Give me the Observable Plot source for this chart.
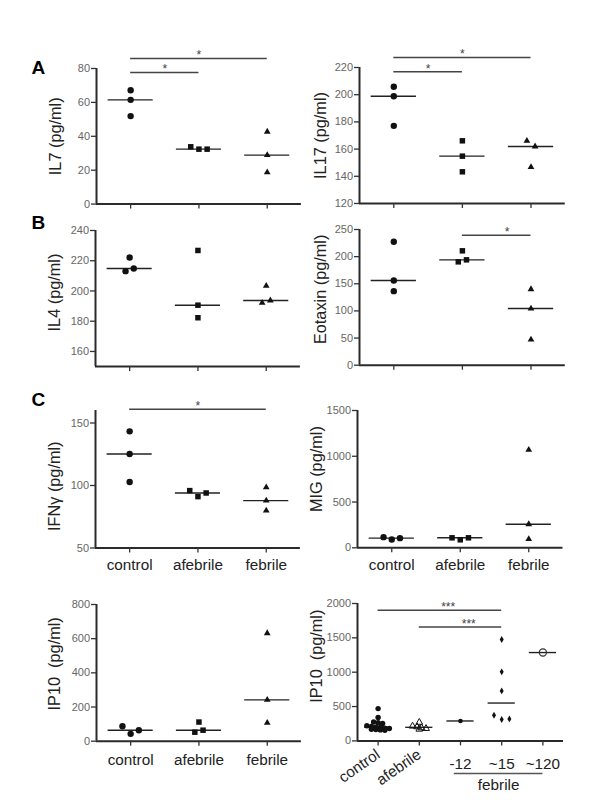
<!DOCTYPE html>
<html><head><meta charset="utf-8">
<script src="https://cdn.jsdelivr.net/npm/d3@7"></script>
<script src="https://cdn.jsdelivr.net/npm/@observablehq/plot@0.6"></script>
<style>
body{margin:0;background:#fff;}
#fig{position:relative;width:600px;height:806px;overflow:hidden;font-family:"Liberation Sans",Arial,Helvetica,sans-serif;}
.panel{position:absolute;}
.letter{position:absolute;font-weight:bold;font-size:19px;line-height:19px;color:#000;}
</style></head><body><div id="fig"></div>
<script>
const FONT = '"Liberation Sans", Arial, Helvetica, sans-serif';
const groups3 = ["control", "afebrile", "febrile"];
const groups5 = ["control", "afebrile", "-12", "~15", "~120"];
const febrileSub = ["-12", "~15", "~120"];

// A
const il7Control = [67.2, 61.5, 51.9];
const il7Afebrile = [33.8, 32.4, 32.4];
const il7Febrile = [42.7, 28.9, 18.7];
const il7Ticks = [0, 20, 40, 60, 80];
const il7Sig = [{from: "control", to: "afebrile", y: 77.6, label: "*"}, {from: "control", to: "febrile", y: 85.9, label: "*"}];

const il17Control = [205.8, 198.9, 177.1];
const il17Afebrile = [166.1, 154.8, 143.3];
const il17Febrile = [166.1, 161.9, 146.7];
const il17Ticks = [120, 140, 160, 180, 200, 220];
const il17Sig = [{from: "control", to: "afebrile", y: 216.8, label: "*"}, {from: "control", to: "febrile", y: 227.4, label: "*"}];

// B
const il4Control = [213.1, 222.1, 214.9];
const il4Afebrile = [226.8, 190.6, 182.3];
const il4Febrile = [203.4, 192.2, 193.7];
const il4Ticks = [160, 180, 200, 220, 240];

const eotaxinControl = [227.3, 156.0, 136.4];
const eotaxinAfebrile = [190.4, 210.7, 194.1];
const eotaxinFebrile = [140.0, 104.4, 47.3];
const eotaxinTicks = [0, 50, 100, 150, 200, 250];
const eotaxinSig = [{from: "afebrile", to: "febrile", y: 239.6, label: "*"}];

// C
const ifngControl = [143.3, 125.2, 102.8];
const ifngAfebrile = [95.9, 91.1, 94.0];
const ifngFebrile = [98.5, 87.9, 79.9];
const ifngTicks = [50, 100, 150];
const ifngSig = [{from: "control", to: "febrile", y: 160.9, label: "*"}];

const migControl = [116.5, 91, 105.6];
const migAfebrile = [109, 87.4, 109];
const migFebrile = [1070, 258, 94.6];
const migTicks = [0, 500, 1000, 1500];

const ip10Control = [87.8, 42.9, 64.4];
const ip10Afebrile = [52.7, 112, 64.4];
const ip10Febrile = [632, 242, 107];
const ip10Ticks = [0, 200, 400, 600, 800];

const ip10bControl = [470, 340, 275, 265, 255, 220, 210, 200, 195, 185, 180, 170, 165, 160, 155];
const ip10bAfebrile = [270, 215, 205, 190, 180, 170];
const ip10bM12 = [290];
const ip10bM15 = [1476, 1005, 728, 374, 311, 320];
const ip10bM120 = [1286];
const ip10bTicks = [0, 500, 1000, 1500, 2000];
const ip10bSig = [{from: "control", to: "~15", y: 1902, label: "***"}, {from: "afebrile", to: "~15", y: 1659, label: "***"}];

const INK = "#111";
const sym3 = [
  {symbol: "circle", fill: INK, r: 3.2},
  {symbol: "square", fill: INK, r: 3.1},
  {symbol: "triangle", fill: INK, r: 2.5}
];
const sym5 = [
  {symbol: "circle", fill: INK, r: 2.7},
  {symbol: "triangle", fill: "none", stroke: INK, strokeWidth: 1, r: 2.5},
  {symbol: "circle", fill: INK, r: 2.3},
  {symbol: "diamond", fill: INK, r: 2.1},
  {symbol: "circle", fill: "none", stroke: "#333", strokeWidth: 1.2, r: 3.6}
];

const fig = document.getElementById("fig");

// Prism-like horizontal spreading of points with nearly equal values (rows centred on the group)
function layoutPoints(values, ppu, thresh, slotPx, unitPx, gi) {
  const order = values.map((v, i) => i).sort((a, b) => values[b] - values[a]);
  const rows = [];
  for (const i of order) {
    const row = rows[rows.length - 1];
    if (row && (values[row[0]] - values[i]) * ppu <= thresh) row.push(i);
    else rows.push([i]);
  }
  const xs = new Array(values.length);
  for (const row of rows) {
    row.sort((a, b) => a - b);
    row.forEach((i, k) => { xs[i] = gi + (k - (row.length - 1) / 2) * slotPx / unitPx; });
  }
  return values.map((v, i) => ({x: xs[i], value: v, group: gi}));
}

function makePanel(cfg) {
  const mL = 70, mR = 12, mT = 32, mB = cfg.mB || 40;
  const n = cfg.groups.length;
  const innerW = n * cfg.unit, innerH = cfg.yBot - cfg.yTop;
  const ppu = innerH / (cfg.domain[1] - cfg.domain[0]);
  const gIndex = g => cfg.groups.indexOf(g);
  const pick = (v, i) => Array.isArray(v) ? v[i] : v;
  const marks = [];

  // axis lines
  marks.push(Plot.ruleY([cfg.domain[0]], {stroke: "#2a2a2a", strokeWidth: 2}));
  marks.push(Plot.ruleX([-0.5], {stroke: "#2a2a2a", strokeWidth: 2}));
  // y axis
  marks.push(Plot.axisY(cfg.ticks, {tickSize: 5, tickPadding: 1.5, tickFormat: d3.format("d"), fontSize: 11, fill: "#666", stroke: "#333", strokeWidth: 1.3, label: null}));
  // x axis
  if (cfg.special) {
    marks.push(Plot.axisX([0, 1], {tickSize: 5, tickPadding: 7, tickRotate: -35, tickFormat: d => cfg.groups[d], fontSize: 15.3, fill: "#222", stroke: "#333", strokeWidth: 1.3, label: null}));
    marks.push(Plot.axisX([2, 3, 4], {tickSize: 5, tickPadding: 12.5, tickFormat: d => cfg.groups[d], fontSize: 15.3, fill: "#222", stroke: "#333", strokeWidth: 1.3, label: null}));
    const i1 = gIndex(febrileSub[0]) - 0.15, i2 = gIndex(febrileSub[febrileSub.length - 1]);
    marks.push(Plot.ruleY([cfg.domain[0]], {x1: i1, x2: i2, dy: 32.6, stroke: "#555", strokeWidth: 1.5}));
    marks.push(Plot.text(["febrile"], {x: (i1 + i2) / 2, y: cfg.domain[0], text: d => d, dy: 44, fontSize: 15.3, fill: "#222"}));
  } else {
    marks.push(Plot.axisX(d3.range(n), {tickSize: 5, tickPadding: cfg.xPad || 6, tickFormat: d => cfg.groups[d], fontSize: 15.3, fill: cfg.xLabels ? "#222" : "none", stroke: "#333", strokeWidth: 1.3, label: null}));
  }

  // points and medians
  cfg.series.forEach((vals, gi) => {
    const pts = layoutPoints(vals, ppu, pick(cfg.thresh, gi), pick(cfg.slot, gi), cfg.unit, gi);
    const med = {i: gi, median: d3.median(vals)};
    marks.push(Plot.ruleY([med], {x1: d => d.i - 0.33, x2: d => d.i + 0.33, y: "median", stroke: "#222", strokeWidth: 1.4}));
    marks.push(Plot.dot(pts, {x: "x", y: "value", ...cfg.symbols[gi]}));
  });

  // significance bars
  if (cfg.sig) {
    marks.push(Plot.ruleY(cfg.sig, {x1: d => gIndex(d.from), x2: d => gIndex(d.to), y: "y", stroke: "#444", strokeWidth: 1.5}));
    marks.push(Plot.text(cfg.sig, {x: d => (gIndex(d.from) + gIndex(d.to)) / 2 + (cfg.starShift || 0), y: "y", text: "label", dy: -3, fontSize: 12, fill: "#444"}));
  }

  // y label
  marks.push(Plot.text([cfg.label], {frameAnchor: "left", text: d => d, rotate: -90, dx: cfg.labelDx, dy: cfg.labelDy, fontSize: 16.3, fill: "#222", textAnchor: "middle"}));

  const W = mL + innerW + mR, H = mT + innerH + mB;
  const svg = Plot.plot({
    width: W, height: H,
    marginLeft: mL, marginRight: mR, marginTop: mT, marginBottom: mB,
    x: {domain: [-0.5, n - 0.5], label: null},
    y: {domain: cfg.domain, label: null},
    style: {fontFamily: FONT, fontSize: "11px", background: "transparent", overflow: "visible"},
    marks
  });
  const div = document.createElement("div");
  div.className = "panel";
  div.style.left = (cfg.x0 - mL) + "px";
  div.style.top = (cfg.yTop - mT) + "px";
  div.style.width = W + "px";
  div.appendChild(svg);
  fig.appendChild(div);
}

const base3 = {groups: groups3, symbols: sym3, thresh: 7.8, slot: 8.2};

makePanel({...base3, label: "IL7 (pg/ml)", series: [il7Control, il7Afebrile, il7Febrile], ticks: il7Ticks, domain: [0, 80], sig: il7Sig,
  x0: 95.5, unit: 68.3, yTop: 67.7, yBot: 203.3, labelDx: -41, labelDy: 0});
makePanel({...base3, label: "IL17 (pg/ml)", series: [il17Control, il17Afebrile, il17Febrile], ticks: il17Ticks, domain: [120, 220], sig: il17Sig,
  x0: 359, unit: 68.6, yTop: 67.3, yBot: 203.3, labelDx: -39, labelDy: 0});
makePanel({...base3, label: "IL4 (pg/ml)", series: [il4Control, il4Afebrile, il4Febrile], ticks: il4Ticks, domain: [150, 240],
  x0: 95, unit: 68.3, yTop: 230, yBot: 366.1, labelDx: -41, labelDy: -6});
makePanel({...base3, label: "Eotaxin (pg/ml)", series: [eotaxinControl, eotaxinAfebrile, eotaxinFebrile], ticks: eotaxinTicks, domain: [0, 250], sig: eotaxinSig, starShift: 0.15,
  x0: 359.3, unit: 68.6, yTop: 229.3, yBot: 365, labelDx: -39, labelDy: -8});
makePanel({...base3, label: "IFNγ (pg/ml)", series: [ifngControl, ifngAfebrile, ifngFebrile], ticks: ifngTicks, domain: [50, 160], sig: ifngSig, xLabels: true, xPad: 6,
  x0: 95, unit: 68.3, yTop: 409.8, yBot: 547.3, labelDx: -41, labelDy: 7});
makePanel({...base3, label: "MIG (pg/ml)", series: [migControl, migAfebrile, migFebrile], ticks: migTicks, domain: [0, 1500], xLabels: true, xPad: 6,
  x0: 356.7, unit: 68.5, yTop: 410, yBot: 547.3, labelDx: -41, labelDy: -10});
makePanel({...base3, label: "IP10  (pg/ml)", series: [ip10Control, ip10Afebrile, ip10Febrile], ticks: ip10Ticks, domain: [0, 800], xLabels: true, xPad: 7.5,
  x0: 96, unit: 68.3, yTop: 604, yBot: 740.7, labelDx: -42, labelDy: -9});
makePanel({groups: groups5, symbols: sym5, thresh: [3, 3, 3, 4.6, 3], slot: [4.5, 4.5, 4.5, 7.7, 4.5], special: true, mB: 66, starShift: 0.2,
  label: "IP10  (pg/ml)", series: [ip10bControl, ip10bAfebrile, ip10bM12, ip10bM15, ip10bM120], ticks: ip10bTicks, domain: [0, 2000], sig: ip10bSig,
  x0: 356.7, unit: 41.2, yTop: 603.3, yBot: 740.7, labelDx: -41, labelDy: -16});

// panel letters
[["A", 57.5], ["B", 212.5], ["C", 389.5]].forEach(([t, top]) => {
  const d = document.createElement("div");
  d.className = "letter";
  d.textContent = t;
  d.style.left = "31.5px";
  d.style.top = top + "px";
  fig.appendChild(d);
});
</script>
</body></html>
